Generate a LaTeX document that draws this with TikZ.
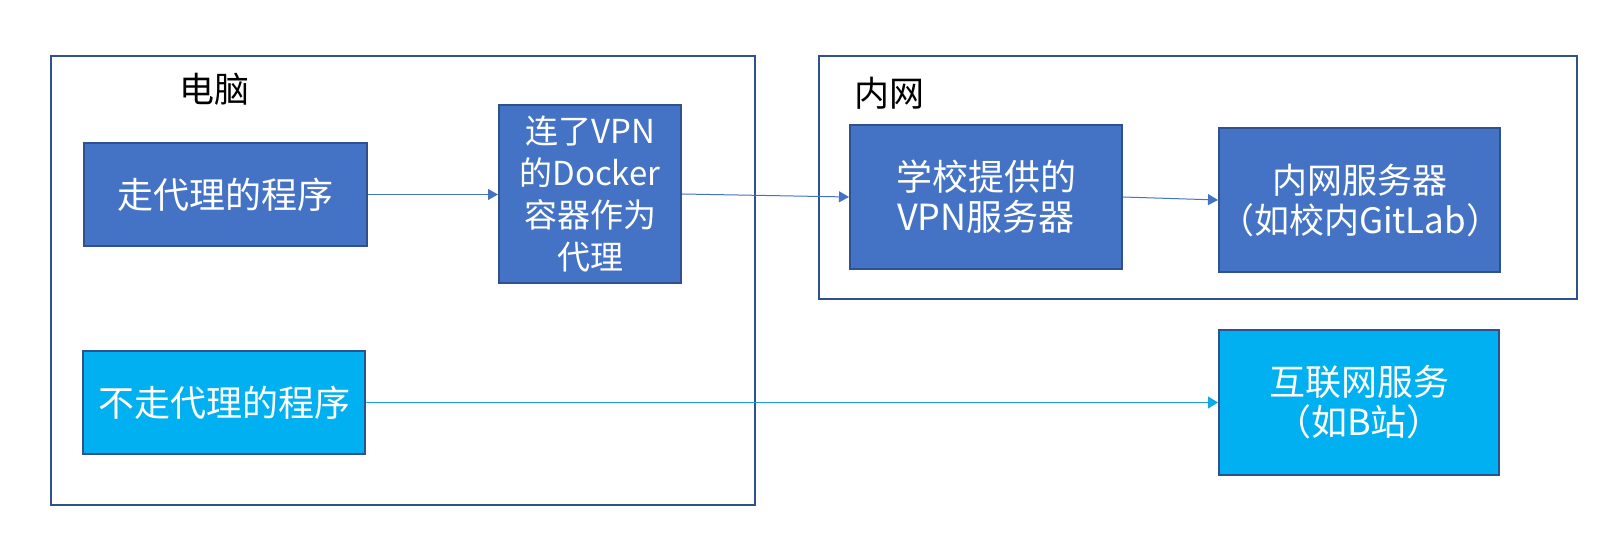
\documentclass[tikz,border=0pt]{standalone}
\usepackage{fontspec}
\usetikzlibrary{arrows.meta, positioning}
\newfontfamily\cjk{Noto Sans CJK SC}
\definecolor{boxblue}{HTML}{4472C4}
\definecolor{edgeblue}{HTML}{2F528F}
\definecolor{skyblue}{HTML}{00B0F0}
\definecolor{skyline}{HTML}{1BA1E2}
\tikzset{
  grp/.style   ={draw=edgeblue, line width=1pt, inner sep=0pt},
  grplab/.style={font=\cjk\fontsize{17.5}{21}\selectfont, text=black},
  prog/.style  ={draw=edgeblue, fill=boxblue, line width=1pt, inner sep=0pt, text=white, align=center, font=\cjk\fontsize{18}{20}\selectfont},
  progB/.style ={prog, fill=skyblue},
  link/.style  ={-{Triangle[length=5pt, width=5.5pt]}, line width=0.5pt, boxblue},
  linkB/.style ={-{Triangle[length=5pt, width=6pt, fill=skyblue]}, line width=0.5pt, skyline},
}

\begin{document}
\begin{tikzpicture}[x=0.5pt, y=-0.5pt]
  \useasboundingbox (0,0) rectangle (1608,545);
  \node[grp, minimum width=352pt, minimum height=224.5pt] (pc)  at (403,280.5) {};
  \node[grp, minimum width=379pt, minimum height=121.5pt] (lan) at (1198,177.5) {};
  \node[grplab] (pclab)  at (214,89) {电脑};
  \node[grplab] (lanlab) at (889,93) {内网};
  \node[prog,  minimum width=141.5pt, minimum height=51.5pt] (proxied) at (225.5,194.5) {走代理的程序};
  \node[prog,  minimum width=91pt,    minimum height=89pt, font=\cjk\fontsize{16.5}{21}\selectfont] (docker) at (590,194) {连了VPN\\的Docker\\容器作为\\代理};
  \node[progB, minimum width=141pt,   minimum height=51.5pt] (direct) at (224,402.5) {不走代理的程序};
  \node[prog,  minimum width=136pt,   minimum height=72pt] (vpnsrv) at (986,197) {学校提供的\\VPN服务器};
  \node[prog,  text width=140.5pt,    minimum height=72pt, font=\cjk\fontsize{17.5}{20}\selectfont] (gitlab) at (1359.5,200) {内网服务器\\（如校内GitLab）};
  \node[progB, minimum width=140pt,   minimum height=72.5pt] (bili) at (1359,402.5) {互联网服务\\（如B站）};
  \draw[link] (proxied.east) -- (docker.west |- proxied.east);
  \draw[link] (docker.east) -- (vpnsrv.west);
  \draw[link] (vpnsrv.east) -- (gitlab.west);
  \draw[linkB] (direct.east) -- (bili.west);
\end{tikzpicture}
\end{document}
